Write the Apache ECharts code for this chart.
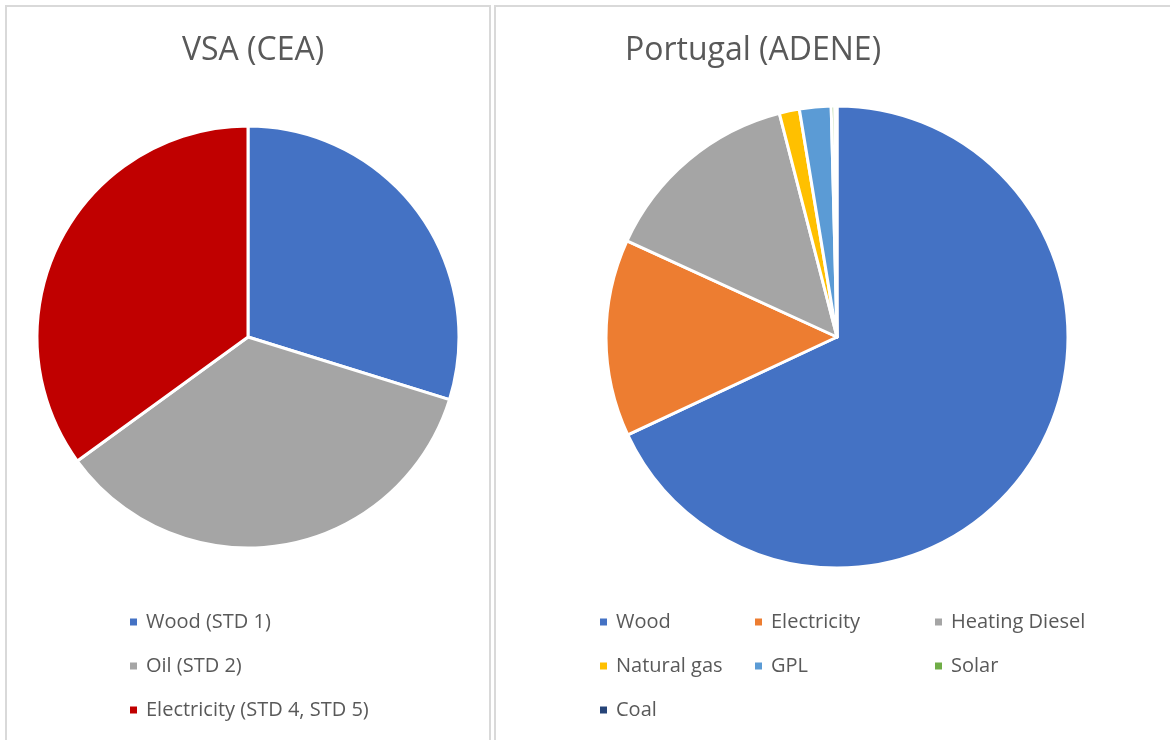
<!DOCTYPE html>
<html lang="en">
<head>
<meta charset="UTF-8" />
<script src="https://cdn.jsdelivr.net/npm/echarts@6/dist/echarts.min.js"></script>
<style>
html, body { margin: 0; padding: 0; background: #fff; }
#main { width: 1170px; height: 740px; }
</style>
</head>
<body>
<div id="main"></div>
<script type="text/javascript">
// left chart: VSA (CEA)
var vsaNames = ['Wood (STD 1)', 'Oil (STD 2)', 'Electricity (STD 4, STD 5)'];
var vsaValues = [29.8, 35.2, 35.0];
var vsaColors = ['#4472C4', '#A5A5A5', '#C00000'];

// right chart: Portugal (ADENE)
var ptNames = ['Wood', 'Electricity', 'Heating Diesel', 'Natural gas', 'GPL', 'Solar', 'Coal'];
var ptValues = [67.8, 13.75, 14.1, 1.4, 2.2, 0.25, 0.15];
var ptColors = ['#4472C4', '#ED7D31', '#A5A5A5', '#FFC000', '#5B9BD5', '#70AD47', '#264478'];

function toData(names, values, colors) {
	return names.map(function (n, i) {
		return { name: n, value: values[i], itemStyle: { color: colors[i] } };
	});
}

var font = 'Open Sans';
var legendText = { color: '#595959', fontSize: 20, lineHeight: 22, fontFamily: font, padding: [0, 0, 0, 3] };

function legendCol(data, left) {
	return {
		orient: 'vertical', left: left, top: 606,
		itemWidth: 9, itemHeight: 9, itemGap: 22,
		icon: 'rect', selectedMode: false,
		textStyle: legendText,
		data: data
	};
}

var myChart = echarts.init(document.getElementById('main'));

var option = {
	animation: false,
	title: [
		{ text: 'VSA (CEA)', left: 248, top: 30, textAlign: 'center',
		  textStyle: { color: '#595959', fontSize: 32, fontWeight: 'normal', fontFamily: font } },
		{ text: 'Portugal (ADENE)', left: 748, top: 30, textAlign: 'center',
		  textStyle: { color: '#595959', fontSize: 32, fontWeight: 'normal', fontFamily: font } }
	],
	legend: [
		legendCol(vsaNames, 123),
		legendCol(['Wood', 'Natural gas', 'Coal'], 593),
		legendCol(['Electricity', 'GPL'], 748),
		legendCol(['Heating Diesel', 'Solar'], 928)
	],
	graphic: [
		{ type: 'rect', shape: { x: 6, y: 6, width: 484, height: 760 },
		  style: { fill: null, stroke: '#D9D9D9', lineWidth: 2 } },
		{ type: 'rect', shape: { x: 495, y: 6, width: 700, height: 760 },
		  style: { fill: null, stroke: '#D9D9D9', lineWidth: 2 } }
	],
	series: [
		{
			type: 'pie', center: [248, 337], radius: [0, 211],
			startAngle: 90, clockwise: true,
			label: { show: false }, labelLine: { show: false },
			itemStyle: { borderColor: '#fff', borderWidth: 3 },
			emphasis: { disabled: true },
			data: toData(vsaNames, vsaValues, vsaColors)
		},
		{
			type: 'pie', center: [837, 337], radius: [0, 231],
			startAngle: 90, clockwise: true, minAngle: 0,
			label: { show: false }, labelLine: { show: false },
			itemStyle: { borderColor: '#fff', borderWidth: 3 },
			emphasis: { disabled: true },
			data: toData(ptNames, ptValues, ptColors)
		}
	]
};

myChart.setOption(option);
</script>
</body>
</html>
